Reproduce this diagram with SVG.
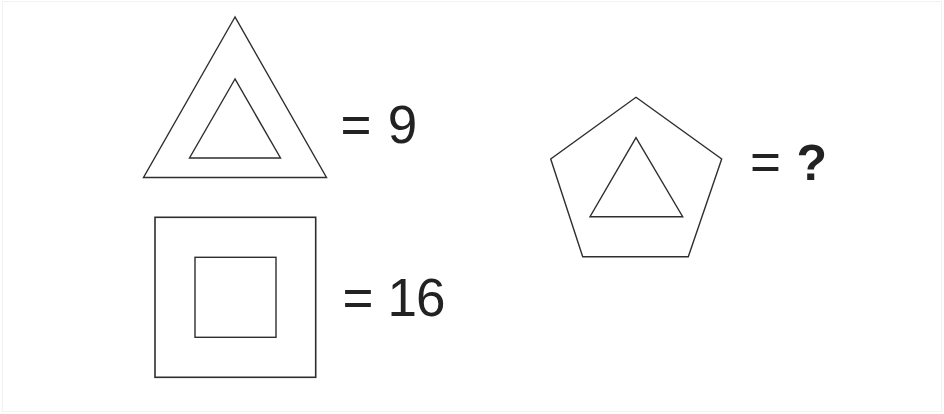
<svg xmlns="http://www.w3.org/2000/svg" width="944" height="414" viewBox="0 0 944 414">
<style>
.s{fill:none;stroke:#2e2e2e;stroke-width:1.4;stroke-linejoin:miter}
.t{font-family:"Liberation Sans",Arial,sans-serif;font-size:53px;fill:#222}
.b{font-weight:bold}
</style>
<rect x="0" y="0" width="944" height="414" fill="#fff"/>
<rect x="2.5" y="1.5" width="939" height="410" fill="none" stroke="#f2f2f2" stroke-width="1"/>
<g id="triangle">
<polygon class="s" points="235,17 143.5,177.5 326.5,177.5"/>
<polygon class="s" points="235,79 189.5,158 280.5,158"/>
<text class="t" y="143"><tspan x="340.5">=</tspan><tspan x="387.8">9</tspan></text>
</g>
<g id="square">
<rect class="s" x="155" y="217.3" width="160.7" height="160" style="stroke-width:1.6"/>
<rect class="s" x="195" y="257.3" width="81" height="80"/>
<text class="t" y="316"><tspan x="342.5">=</tspan><tspan x="387.5">1</tspan><tspan x="416">6</tspan></text>
</g>
<g id="pentagon">
<polygon class="s" points="636,97.3 721.7,159 688.3,256.7 582.7,256.7 550.7,159"/>
<polygon class="s" points="636,137.7 590,216.7 682.7,216.7"/>
<text class="t" y="180"><tspan x="750">=</tspan><tspan class="b" x="796.5" style="font-size:50px">?</tspan></text>
</g>
<g id="connectors"/>
</svg>
